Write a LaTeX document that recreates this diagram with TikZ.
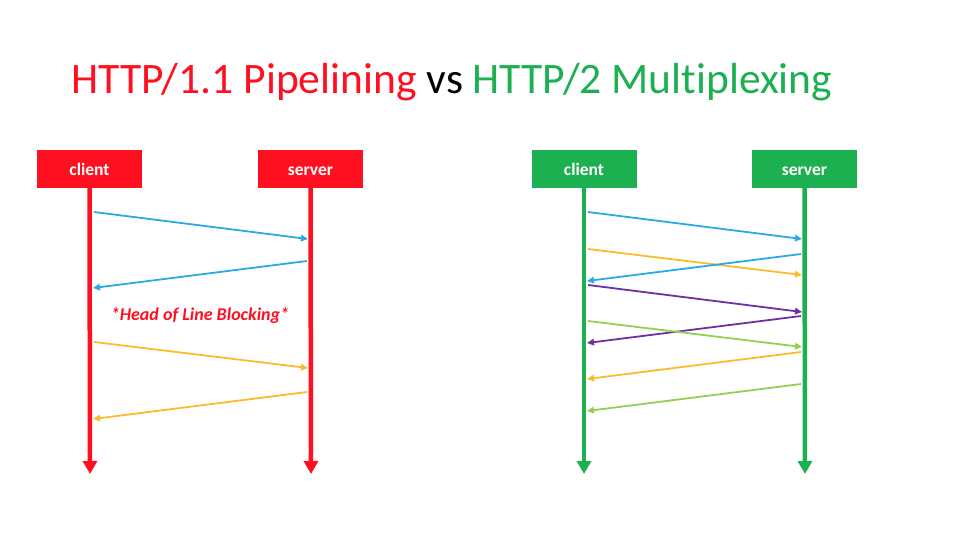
\documentclass[tikz,border=0pt]{standalone}
\usepackage{fontspec}
\setmainfont{Carlito}[Ligatures=NoCommon]
\usetikzlibrary{arrows.meta}
\definecolor{hred}{HTML}{FF1020}
\definecolor{hgreen}{HTML}{1DB050}
\definecolor{mblue}{HTML}{29ABE2}
\definecolor{myellow}{HTML}{FBBC2C}
\definecolor{mpurple}{HTML}{7030A0}
\definecolor{mlgreen}{HTML}{92D050}
\begin{document}
\begin{tikzpicture}[x=1pt,y=-1pt,
  actor/.style={fill=#1, text=white, font=\bfseries\fontsize{17.5}{20}\selectfont,
    minimum width=105pt, minimum height=38pt, inner sep=0pt, text height=12.5pt, text depth=0pt},
  life/.style={draw=#1, line width=4.5pt, -{Triangle[length=13pt,width=14pt]}},
  msg/.style={draw=#1, line width=1.8pt, -{Triangle[length=7pt,width=6.5pt]}}]
\useasboundingbox (0,0) rectangle (960,540);

% title
\node[anchor=base, inner sep=0pt, font=\fontsize{43.5}{50}\selectfont] (title) at (452,94)
  {\textcolor{hred}{HTTP/1.1 Pipelining} vs \textcolor{hgreen}{HTTP/2 Multiplexing}};

% left panel
\node[actor=hred] (lc) at (89.5,169) {client};
\node[actor=hred] (ls) at (310.5,169) {server};
\coordinate (lcend) at (90,474);
\coordinate (lsend) at (311,474);
\draw[life=hred] (lc.south) -- (lcend);
\draw[life=hred] (ls.south) -- (lsend);

\coordinate (l1a) at (94,212);  \coordinate (l1b) at (308,239);
\coordinate (l2a) at (307,261); \coordinate (l2b) at (93,288);
\coordinate (l3a) at (94,342);  \coordinate (l3b) at (308,368);
\coordinate (l4a) at (307,392); \coordinate (l4b) at (93,419);
\draw[msg=mblue] (l1a) -- (l1b);
\draw[msg=mblue] (l2a) -- (l2b);
\draw[msg=myellow] (l3a) -- (l3b);
\draw[msg=myellow] (l4a) -- (l4b);
\node[text=hred, font=\bfseries\itshape\fontsize{18}{21}\selectfont] (hol) at (200,316) {*Head of Line Blocking*};

% right panel
\node[actor=hgreen] (rc) at (584,169) {client};
\node[actor=hgreen] (rs) at (804.5,169) {server};
\coordinate (rcend) at (584,474);
\coordinate (rsend) at (805,474);
\draw[life=hgreen] (rc.south) -- (rcend);
\draw[life=hgreen] (rs.south) -- (rsend);

\coordinate (r1a) at (588,212); \coordinate (r1b) at (802,239);
\coordinate (r2a) at (588,249); \coordinate (r2b) at (802,275);
\coordinate (r3a) at (801,254); \coordinate (r3b) at (587,281);
\coordinate (r4a) at (588,285); \coordinate (r4b) at (802,312);
\coordinate (r5a) at (801,316); \coordinate (r5b) at (587,343);
\coordinate (r6a) at (588,321); \coordinate (r6b) at (802,347);
\coordinate (r7a) at (801,352); \coordinate (r7b) at (587,379);
\coordinate (r8a) at (801,384); \coordinate (r8b) at (587,411);
\draw[msg=mblue] (r1a) -- (r1b);
\draw[msg=myellow] (r2a) -- (r2b);
\draw[msg=mblue] (r3a) -- (r3b);
\draw[msg=mpurple] (r4a) -- (r4b);
\draw[msg=mpurple] (r5a) -- (r5b);
\draw[msg=mlgreen] (r6a) -- (r6b);
\draw[msg=myellow] (r7a) -- (r7b);
\draw[msg=mlgreen] (r8a) -- (r8b);
\end{tikzpicture}
\end{document}
